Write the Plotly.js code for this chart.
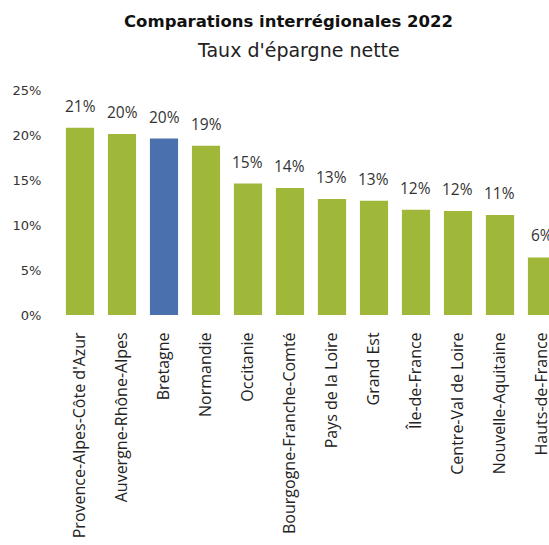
<!DOCTYPE html>
<html><head><meta charset="utf-8">
<script src="https://cdn.plot.ly/plotly-3.0.1.min.js"></script>
<style>html,body{margin:0;padding:0;background:#fff;overflow:hidden}#chart{width:549px;height:545px}</style>
</head><body><div id="chart"></div>
<script>
const regions = ["Provence-Alpes-Côte d'Azur","Auvergne-Rhône-Alpes","Bretagne","Normandie","Occitanie","Bourgogne-Franche-Comté","Pays de la Loire","Grand Est","Île-de-France","Centre-Val de Loire","Nouvelle-Aquitaine","Hauts-de-France"];
const savingsRate = [20.8,20.1,19.6,18.8,14.6,14.1,12.9,12.7,11.7,11.55,11.1,6.4];
const highlight = "Bretagne";
const yTicks = [0,5,10,15,20,25];
const yTickLabels = ["0%","5%","10%","15%","20%","25%"];
const green = '#9fb83a', blue = '#4a70ae';

const trace = {
  type:'bar', x: regions, y: savingsRate,
  marker:{color: regions.map(r => r===highlight ? blue : green)},
  width: 0.67, hoverinfo:'none'
};
const valueLabels = regions.map((r,i) => ({
  x: r, y: savingsRate[i], xref:'x', yref:'y',
  text: Math.round(savingsRate[i]) + '%',
  showarrow:false, xanchor:'center', yanchor:'bottom', yshift:9,
  font:{family:'Open Sans', size:15.5, color:'#333'}
}));
const layout = {
  width:549, height:545,
  margin:{l:59, r:0, t:90, b:230},
  paper_bgcolor:'#fff', plot_bgcolor:'#fff',
  showlegend:false,
  xaxis:{type:'category', range:[-0.5, 11.167], tickangle:-90,
    tickfont:{family:'Open Sans', size:16, color:'#222'},
    ticks:'outside', ticklen:10, tickcolor:'rgba(0,0,0,0)', showline:false, showgrid:false, fixedrange:true},
  yaxis:{range:[0,25], tickvals:yTicks, ticktext:yTickLabels,
    tickfont:{family:'DejaVu Sans', size:13, color:'#333'},
    ticks:'outside', ticklen:14, tickcolor:'rgba(0,0,0,0)', showline:false, showgrid:false, zeroline:false, fixedrange:true},
  annotations:[
    {text:'<b>Comparations interrégionales 2022</b>', xref:'paper', yref:'paper', x:(288-59)/490, y:1+(90-21)/225, xanchor:'center', yanchor:'middle', showarrow:false, font:{family:'DejaVu Sans', size:16.5, color:'#111'}},
    {text:"Taux d'épargne nette", xref:'paper', yref:'paper', x:(298-59)/490, y:1+(90-50)/225, xanchor:'center', yanchor:'middle', showarrow:false, font:{family:'DejaVu Sans', size:19, color:'#222'}}
  ].concat(valueLabels)
};
Plotly.newPlot('chart',[trace],layout,{displayModeBar:false, staticPlot:true});
</script></body></html>
